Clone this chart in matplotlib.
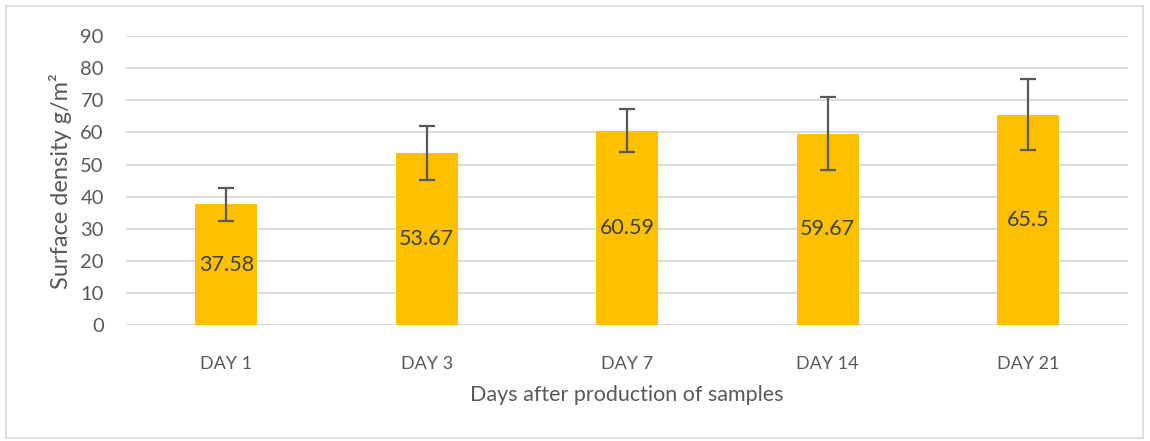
import matplotlib.pyplot as plt
from matplotlib.patches import Rectangle

days = ["DAY 1", "DAY 3", "DAY 7", "DAY 14", "DAY 21"]
density = [37.58, 53.67, 60.59, 59.67, 65.5]
errors = [5.05, 8.4, 6.7, 11.4, 11.0]
labels = ["37.58", "53.67", "60.59", "59.67", "65.5"]

plt.rcParams['font.family'] = ['Lato', 'DejaVu Sans']

fig = plt.figure(figsize=(11.5, 4.41), dpi=100)
ax = fig.add_axes([0.1096, 0.263, 0.8715, 0.655])

x = range(len(days))
ax.bar(x, density, width=0.31, color="#FFC000", zorder=2)
ax.errorbar(x, density, yerr=errors, fmt="none", ecolor="#595959",
            elinewidth=1.6, capsize=6, capthick=1.6, zorder=3)

for i, (v, t) in enumerate(zip(density, labels)):
    ax.text(i, v / 2, t, ha="center", va="center", fontsize=15.5, color="#404040", zorder=4)

ax.set_xlim(-0.5, len(days) - 0.5)
ax.set_ylim(0, 90)
ax.set_yticks(range(0, 91, 10))
ax.set_xticks(list(x))
ax.set_xticklabels(days)
ax.tick_params(axis="both", length=0, labelcolor="#595959")
ax.tick_params(axis="x", pad=22, labelsize=13)
ax.tick_params(axis="y", pad=16, labelsize=14.5)
ax.yaxis.grid(True, color="#d9d9d9", linewidth=1.3, zorder=0)
ax.set_axisbelow(True)
for s in ax.spines.values():
    s.set_visible(False)

ax.set_ylabel("Surface density g/m²", fontsize=17, color="#595959", labelpad=6)
ax.set_xlabel("Days after production of samples", fontsize=15.5, color="#595959", labelpad=10)

fig.patches.append(Rectangle((6 / 1150, 3 / 441), 1137 / 1150, 432 / 441, transform=fig.transFigure,
                             fill=False, edgecolor="#d9d9d9", linewidth=1.2))

fig.savefig("out.png", dpi=100)
